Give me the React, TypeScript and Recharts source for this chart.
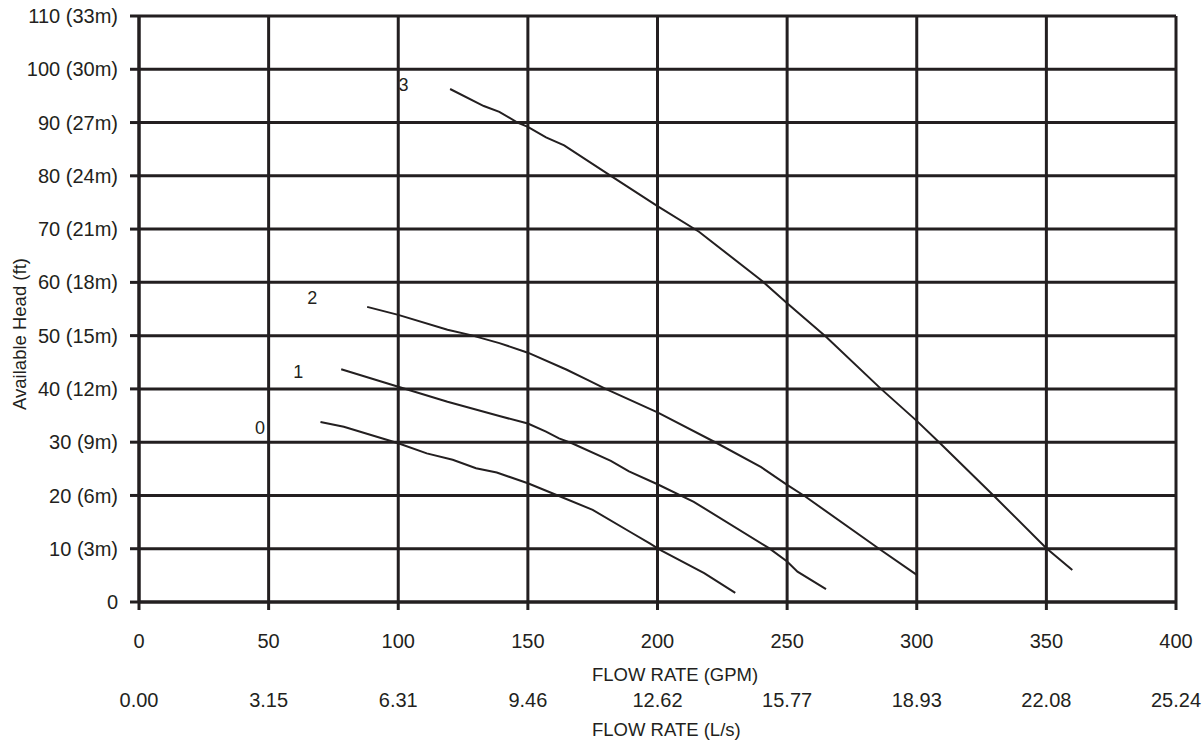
import React from 'react';
import { LineChart, Line, XAxis, YAxis, CartesianGrid, Label, LabelList } from 'recharts';

const gpmTicks = [0, 50, 100, 150, 200, 250, 300, 350, 400];
const lpsTickLabels = ['0.00', '3.15', '6.31', '9.46', '12.62', '15.77', '18.93', '22.08', '25.24'];
const headTicks = [0, 10, 20, 30, 40, 50, 60, 70, 80, 90, 100, 110];
const headTickLabels = ['0', '10 (3m)', '20 (6m)', '30 (9m)', '40 (12m)', '50 (15m)', '60 (18m)', '70 (21m)', '80 (24m)', '90 (27m)', '100 (30m)', '110 (33m)'];
const curveNames = ['0', '1', '2', '3'];

const curve0 = [
  { gpm: 70, head: 33.8 }, { gpm: 79, head: 32.9 }, { gpm: 100, head: 29.8 }, { gpm: 111, head: 27.9 },
  { gpm: 121, head: 26.7 }, { gpm: 130, head: 25.1 }, { gpm: 138, head: 24.3 }, { gpm: 150, head: 22.3 },
  { gpm: 162, head: 19.9 }, { gpm: 175, head: 17.3 }, { gpm: 190, head: 13.0 }, { gpm: 197, head: 11.0 },
  { gpm: 201, head: 9.8 }, { gpm: 218, head: 5.4 }, { gpm: 230, head: 1.7 },
];
const curve1 = [
  { gpm: 78, head: 43.7 }, { gpm: 100, head: 40.4 }, { gpm: 119, head: 37.6 }, { gpm: 139, head: 34.9 },
  { gpm: 150, head: 33.5 }, { gpm: 157, head: 32.0 }, { gpm: 162, head: 30.7 }, { gpm: 167, head: 29.8 },
  { gpm: 182, head: 26.5 }, { gpm: 189, head: 24.5 }, { gpm: 200, head: 22.1 }, { gpm: 214, head: 18.8 },
  { gpm: 243, head: 10.1 }, { gpm: 250, head: 7.6 }, { gpm: 254, head: 5.7 }, { gpm: 265, head: 2.4 },
];
const curve2 = [
  { gpm: 88, head: 55.4 }, { gpm: 100, head: 53.9 }, { gpm: 119, head: 51.1 }, { gpm: 128, head: 50.1 },
  { gpm: 139, head: 48.6 }, { gpm: 150, head: 46.8 }, { gpm: 165, head: 43.6 }, { gpm: 173, head: 41.7 },
  { gpm: 180, head: 40.0 }, { gpm: 200, head: 35.6 }, { gpm: 223, head: 29.8 }, { gpm: 240, head: 25.3 },
  { gpm: 250, head: 22.0 }, { gpm: 257, head: 19.8 }, { gpm: 286, head: 9.8 }, { gpm: 300, head: 5.1 },
];
const curve3 = [
  { gpm: 120, head: 96.3 }, { gpm: 133, head: 93.1 }, { gpm: 139, head: 92.0 }, { gpm: 146, head: 90.0 },
  { gpm: 150, head: 89.2 }, { gpm: 157, head: 87.2 }, { gpm: 164, head: 85.7 }, { gpm: 182, head: 80.0 },
  { gpm: 200, head: 74.3 }, { gpm: 216, head: 69.5 }, { gpm: 240, head: 60.4 }, { gpm: 250, head: 56.1 },
  { gpm: 265, head: 49.8 }, { gpm: 286, head: 40.1 }, { gpm: 300, head: 34.0 }, { gpm: 309, head: 29.8 },
  { gpm: 330, head: 19.8 }, { gpm: 350, head: 10.1 }, { gpm: 360, head: 6.0 },
];

const INK = '#231f20';
const FONT = '"Liberation Sans", Arial, Helvetica, sans-serif';

const GpmTick = (props: any) => {
  const { x, y, payload } = props;
  const i = gpmTicks.indexOf(payload.value);
  return (
    <g>
      <text x={x} y={y + 30.5} dy="0.355em" textAnchor="middle" fontSize={20} fill={INK} fontFamily={FONT}>
        {payload.value}
      </text>
      <text x={x} y={y + 90} dy="0.355em" textAnchor="middle" fontSize={20} fill={INK} fontFamily={FONT}>
        {lpsTickLabels[i]}
      </text>
    </g>
  );
};

const curveLabel = (name: string, dx: number, dy: number) => (props: any) => {
  if (props.index !== 0) return null;
  return (
    <text x={props.x + dx} y={props.y + dy} dy="0.355em" textAnchor="middle" fontSize={18} fill={INK} fontFamily={FONT}>
      {name}
    </text>
  );
};

export default function App() {
  const series = [
    { data: curve0, name: curveNames[0], dx: -60.5, dy: 6 },
    { data: curve1, name: curveNames[1], dx: -43, dy: 2.5 },
    { data: curve2, name: curveNames[2], dx: -55, dy: -9 },
    { data: curve3, name: curveNames[3], dx: -46.5, dy: -4 },
  ];
  return (
    <div style={{ position: 'absolute', top: 0, left: 0, width: 1204, height: 745, fontFamily: FONT }}>
      <LineChart width={1204} height={745} margin={{ top: 16, right: 28, bottom: 0, left: 19 }}>
        <CartesianGrid stroke={INK} strokeWidth={3} />
        <XAxis
          type="number"
          dataKey="gpm"
          domain={[0, 400]}
          ticks={gpmTicks}
          interval={0}
          allowDataOverflow
          height={143}
          tickSize={8}
          tickMargin={0}
          axisLine={{ stroke: INK, strokeWidth: 3 }}
          tickLine={{ stroke: INK, strokeWidth: 3 }}
          tick={<GpmTick />}
        >
          <Label
            content={(p: any) => (
              <text x={p.viewBox.x + 453} y={p.viewBox.y + 72.5} dy="0.355em" textAnchor="start" fontSize={18.5} fill={INK} fontFamily={FONT}>
                FLOW RATE (GPM)
              </text>
            )}
          />
          <Label
            content={(p: any) => (
              <text x={p.viewBox.x + 453} y={p.viewBox.y + 127.5} dy="0.355em" textAnchor="start" fontSize={18.5} fill={INK} fontFamily={FONT}>
                FLOW RATE (L/s)
              </text>
            )}
          />
        </XAxis>
        <YAxis
          type="number"
          domain={[0, 110]}
          ticks={headTicks}
          interval={0}
          width={120}
          tickSize={9}
          tickMargin={12}
          axisLine={{ stroke: INK, strokeWidth: 3 }}
          tickLine={{ stroke: INK, strokeWidth: 3 }}
          tick={{ fontSize: 20, fill: INK, fontFamily: FONT }}
          tickFormatter={(v: number) => headTickLabels[headTicks.indexOf(v)]}
        >
          <Label
            content={(p: any) => {
              const cx = p.viewBox.x;
              const cy = p.viewBox.y + p.viewBox.height / 2 + 25;
              return (
                <text x={cx} y={cy} dy="0.355em" textAnchor="middle" transform={`rotate(-90, ${cx}, ${cy})`} fontSize={18.5} fill={INK} fontFamily={FONT}>
                  Available Head (ft)
                </text>
              );
            }}
          />
        </YAxis>
        {series.map((s) => (
          <Line
            key={s.name}
            data={s.data}
            dataKey="head"
            type="linear"
            stroke={INK}
            strokeWidth={2}
            dot={false}
            activeDot={false}
            isAnimationActive={false}
          >
            <LabelList dataKey="head" content={curveLabel(s.name, s.dx, s.dy)} />
          </Line>
        ))}
      </LineChart>
    </div>
  );
}
